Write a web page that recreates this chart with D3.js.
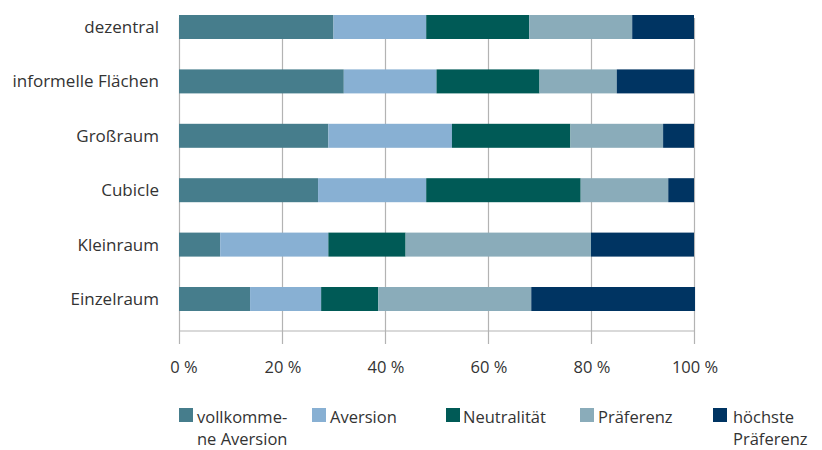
<!DOCTYPE html>
<html><head><meta charset="utf-8">
<script src="https://cdn.jsdelivr.net/npm/d3@7"></script>
<style>body{margin:0;background:#fff}svg{display:block;font-family:"Open Sans",Lato,sans-serif;font-weight:400}</style>
</head><body><svg id="c" width="822" height="450"></svg>
<script>
const categories = ["dezentral","informelle Flächen","Großraum","Cubicle","Kleinraum","Einzelraum"];
const seriesNames = ["vollkommene Aversion","Aversion","Neutralität","Präferenz","höchste Präferenz"];
const legendLabels = [["vollkomme-","ne Aversion"],["Aversion"],["Neutralität"],["Präferenz"],["höchste","Präferenz"]];
const vollkommeneAversion = [30, 32, 29, 27, 8, 13.8];
const aversion            = [18, 18, 24, 21, 21, 13.8];
const neutralitaet        = [20, 20, 23, 30, 15, 11.1];
const praeferenz          = [20, 15, 18, 17, 36, 29.7];
const hoechstePraeferenz  = [12, 15, 6, 5, 20, 31.8];
const tickValues = [0, 20, 40, 60, 80, 100];
const tickLabels = ["0 %","20 %","40 %","60 %","80 %","100 %"];
const colors = ["#467d8c","#88b0d3","#005a56","#8aacba","#003462"];

const svg = d3.select("#c");
const x = d3.scaleLinear().domain([0,100]).range([179,694]);
const y = d3.scalePoint().domain(categories).range([27,299]);
const barH = 24;

const rows = categories.map((c,i)=>({cat:c, vals:[vollkommeneAversion[i],aversion[i],neutralitaet[i],praeferenz[i],hoechstePraeferenz[i]]}));
const keys = seriesNames.map((s,i)=>i);
const stack = d3.stack().keys(keys).value((d,k)=>d.vals[k]);
const stacked = stack(rows);

// gridlines
svg.append("g").selectAll("line").data(tickValues).join("line")
  .attr("x1",d=>x(d)+0.5).attr("x2",d=>x(d)+0.5).attr("y1",18).attr("y2",344)
  .attr("stroke","#b3b3b3").attr("stroke-width",1.2);
// horizontal axis line
svg.append("line").attr("x1",x(0)).attr("x2",x(100)+1).attr("y1",331).attr("y2",331)
  .attr("stroke","#b3b3b3").attr("stroke-width",1.2);

// bars
svg.append("g").selectAll("g").data(stacked).join("g").attr("fill",(d,i)=>colors[i])
  .selectAll("rect").data(d=>d).join("rect")
  .attr("x",d=>x(d[0])).attr("width",d=>x(d[1])-x(d[0]))
  .attr("y",d=>y(d.data.cat)-barH/2).attr("height",barH);

// category labels
svg.append("g").selectAll("text").data(categories).join("text")
  .attr("x",159).attr("y",d=>y(d)).attr("dy","0.35em").attr("text-anchor","end")
  .attr("font-size",17).attr("fill","#333").text(d=>d);

// tick labels
svg.append("g").selectAll("text").data(tickValues).join("text")
  .attr("x",(d,i)=>x(d)+(i===0?5:1)).attr("y",373).attr("text-anchor","middle")
  .attr("font-size",16.5).attr("fill","#333").text((d,i)=>tickLabels[i]);

// legend
const legX = [179,312,446,580,713];
const lg = svg.append("g").selectAll("g").data(seriesNames).join("g")
  .attr("transform",(d,i)=>`translate(${legX[i]},408)`);
lg.append("rect").attr("width",14).attr("height",14).attr("fill",(d,i)=>colors[i]);
lg.each(function(d,i){
  const tx = (i===2?17:(i===4?20:18));
  legendLabels[i].forEach((l,j)=>d3.select(this).append("text")
    .attr("x",tx).attr("y",14.5 + j*22.5)
    .attr("font-size",16.5).attr("fill","#333").text(l));
});
</script></body></html>
